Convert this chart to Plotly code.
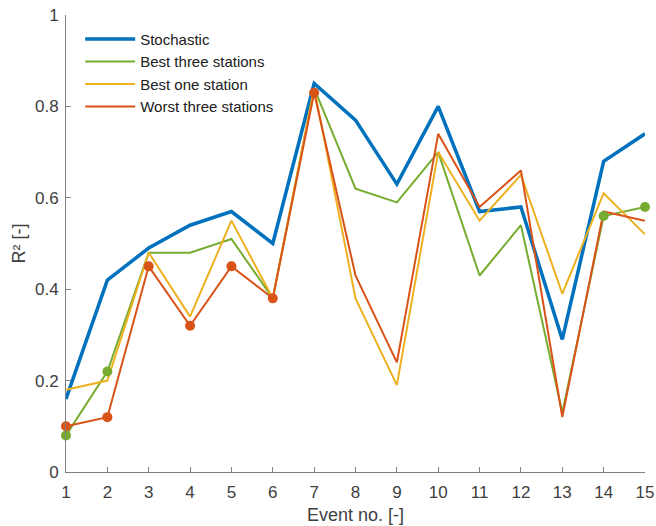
import plotly.graph_objects as go

events = list(range(1, 16))
stochastic = [0.16, 0.42, 0.49, 0.54, 0.57, 0.50, 0.85, 0.77, 0.63, 0.80, 0.57, 0.58, 0.29, 0.68, 0.74]
best_three = [0.08, 0.22, 0.48, 0.48, 0.51, 0.38, 0.84, 0.62, 0.59, 0.70, 0.43, 0.54, 0.13, 0.56, 0.58]
best_one = [0.18, 0.20, 0.48, 0.34, 0.55, 0.38, 0.84, 0.38, 0.19, 0.70, 0.55, 0.65, 0.39, 0.61, 0.52]
worst_three = [0.10, 0.12, 0.45, 0.32, 0.45, 0.38, 0.83, 0.43, 0.24, 0.74, 0.58, 0.66, 0.12, 0.57, 0.55]

green_marker_events = [1, 2, 14, 15]
orange_marker_events = [1, 2, 3, 4, 5, 6, 7]

y_ticks = [0, 0.2, 0.4, 0.6, 0.8, 1]
y_tick_labels = ["0", "0.2", "0.4", "0.6", "0.8", "1"]

BLUE = "#0072BD"
GREEN = "#77AC30"
YELLOW = "#EDB120"
ORANGE = "#D95319"

fig = go.Figure()
fig.add_trace(go.Scatter(x=events, y=stochastic, mode="lines", name="Stochastic",
                         line=dict(color=BLUE, width=3.5), cliponaxis=False))
fig.add_trace(go.Scatter(x=events, y=best_three, mode="lines", name="Best three stations",
                         line=dict(color=GREEN, width=2), cliponaxis=False))
fig.add_trace(go.Scatter(x=events, y=best_one, mode="lines", name="Best one station",
                         line=dict(color=YELLOW, width=2), cliponaxis=False))
fig.add_trace(go.Scatter(x=events, y=worst_three, mode="lines", name="Worst three stations",
                         line=dict(color=ORANGE, width=2), cliponaxis=False))

fig.add_trace(go.Scatter(x=green_marker_events,
                         y=[best_three[e - 1] for e in green_marker_events],
                         mode="markers", showlegend=False,
                         marker=dict(color=GREEN, size=10), cliponaxis=False))
fig.add_trace(go.Scatter(x=orange_marker_events,
                         y=[worst_three[e - 1] for e in orange_marker_events],
                         mode="markers", showlegend=False,
                         marker=dict(color=ORANGE, size=10), cliponaxis=False))

axis_common = dict(
    showline=True, linecolor="#808080", linewidth=1,
    ticks="inside", ticklen=5, tickcolor="#808080",
    showgrid=False, zeroline=False, mirror=False, automargin=False,
    ticklabeloverflow="allow",
    tickfont=dict(size=17, color="#404040"),
)

fig.update_layout(
    width=656, height=526,
    margin=dict(l=66, r=11, t=15, b=54),
    paper_bgcolor="white", plot_bgcolor="white",
    font=dict(family="Liberation Sans, Arial, sans-serif", color="#404040"),
    xaxis=dict(range=[1, 15], tickmode="array", tickvals=events,
               ticklabelstandoff=5,
               title=dict(text="Event no. [-]", font=dict(size=18), standoff=6),
               **axis_common),
    yaxis=dict(range=[0, 1], tickmode="array", tickvals=y_ticks, ticktext=y_tick_labels,
               ticklabelstandoff=3,
               title=dict(text="R² [-]", font=dict(size=18), standoff=4),
               **axis_common),
    legend=dict(x=0.0245, y=0.983, xanchor="left", yanchor="top",
                bgcolor="rgba(0,0,0,0)", borderwidth=0,
                font=dict(size=15, color="#202020"), tracegroupgap=0,
                itemwidth=50),
    showlegend=True,
)

# Remove the default page body margin so the figure fills the window exactly.
fig.write_html("out.html",
               config={"displayModeBar": False},
               post_script="document.body.style.margin='0px';")
